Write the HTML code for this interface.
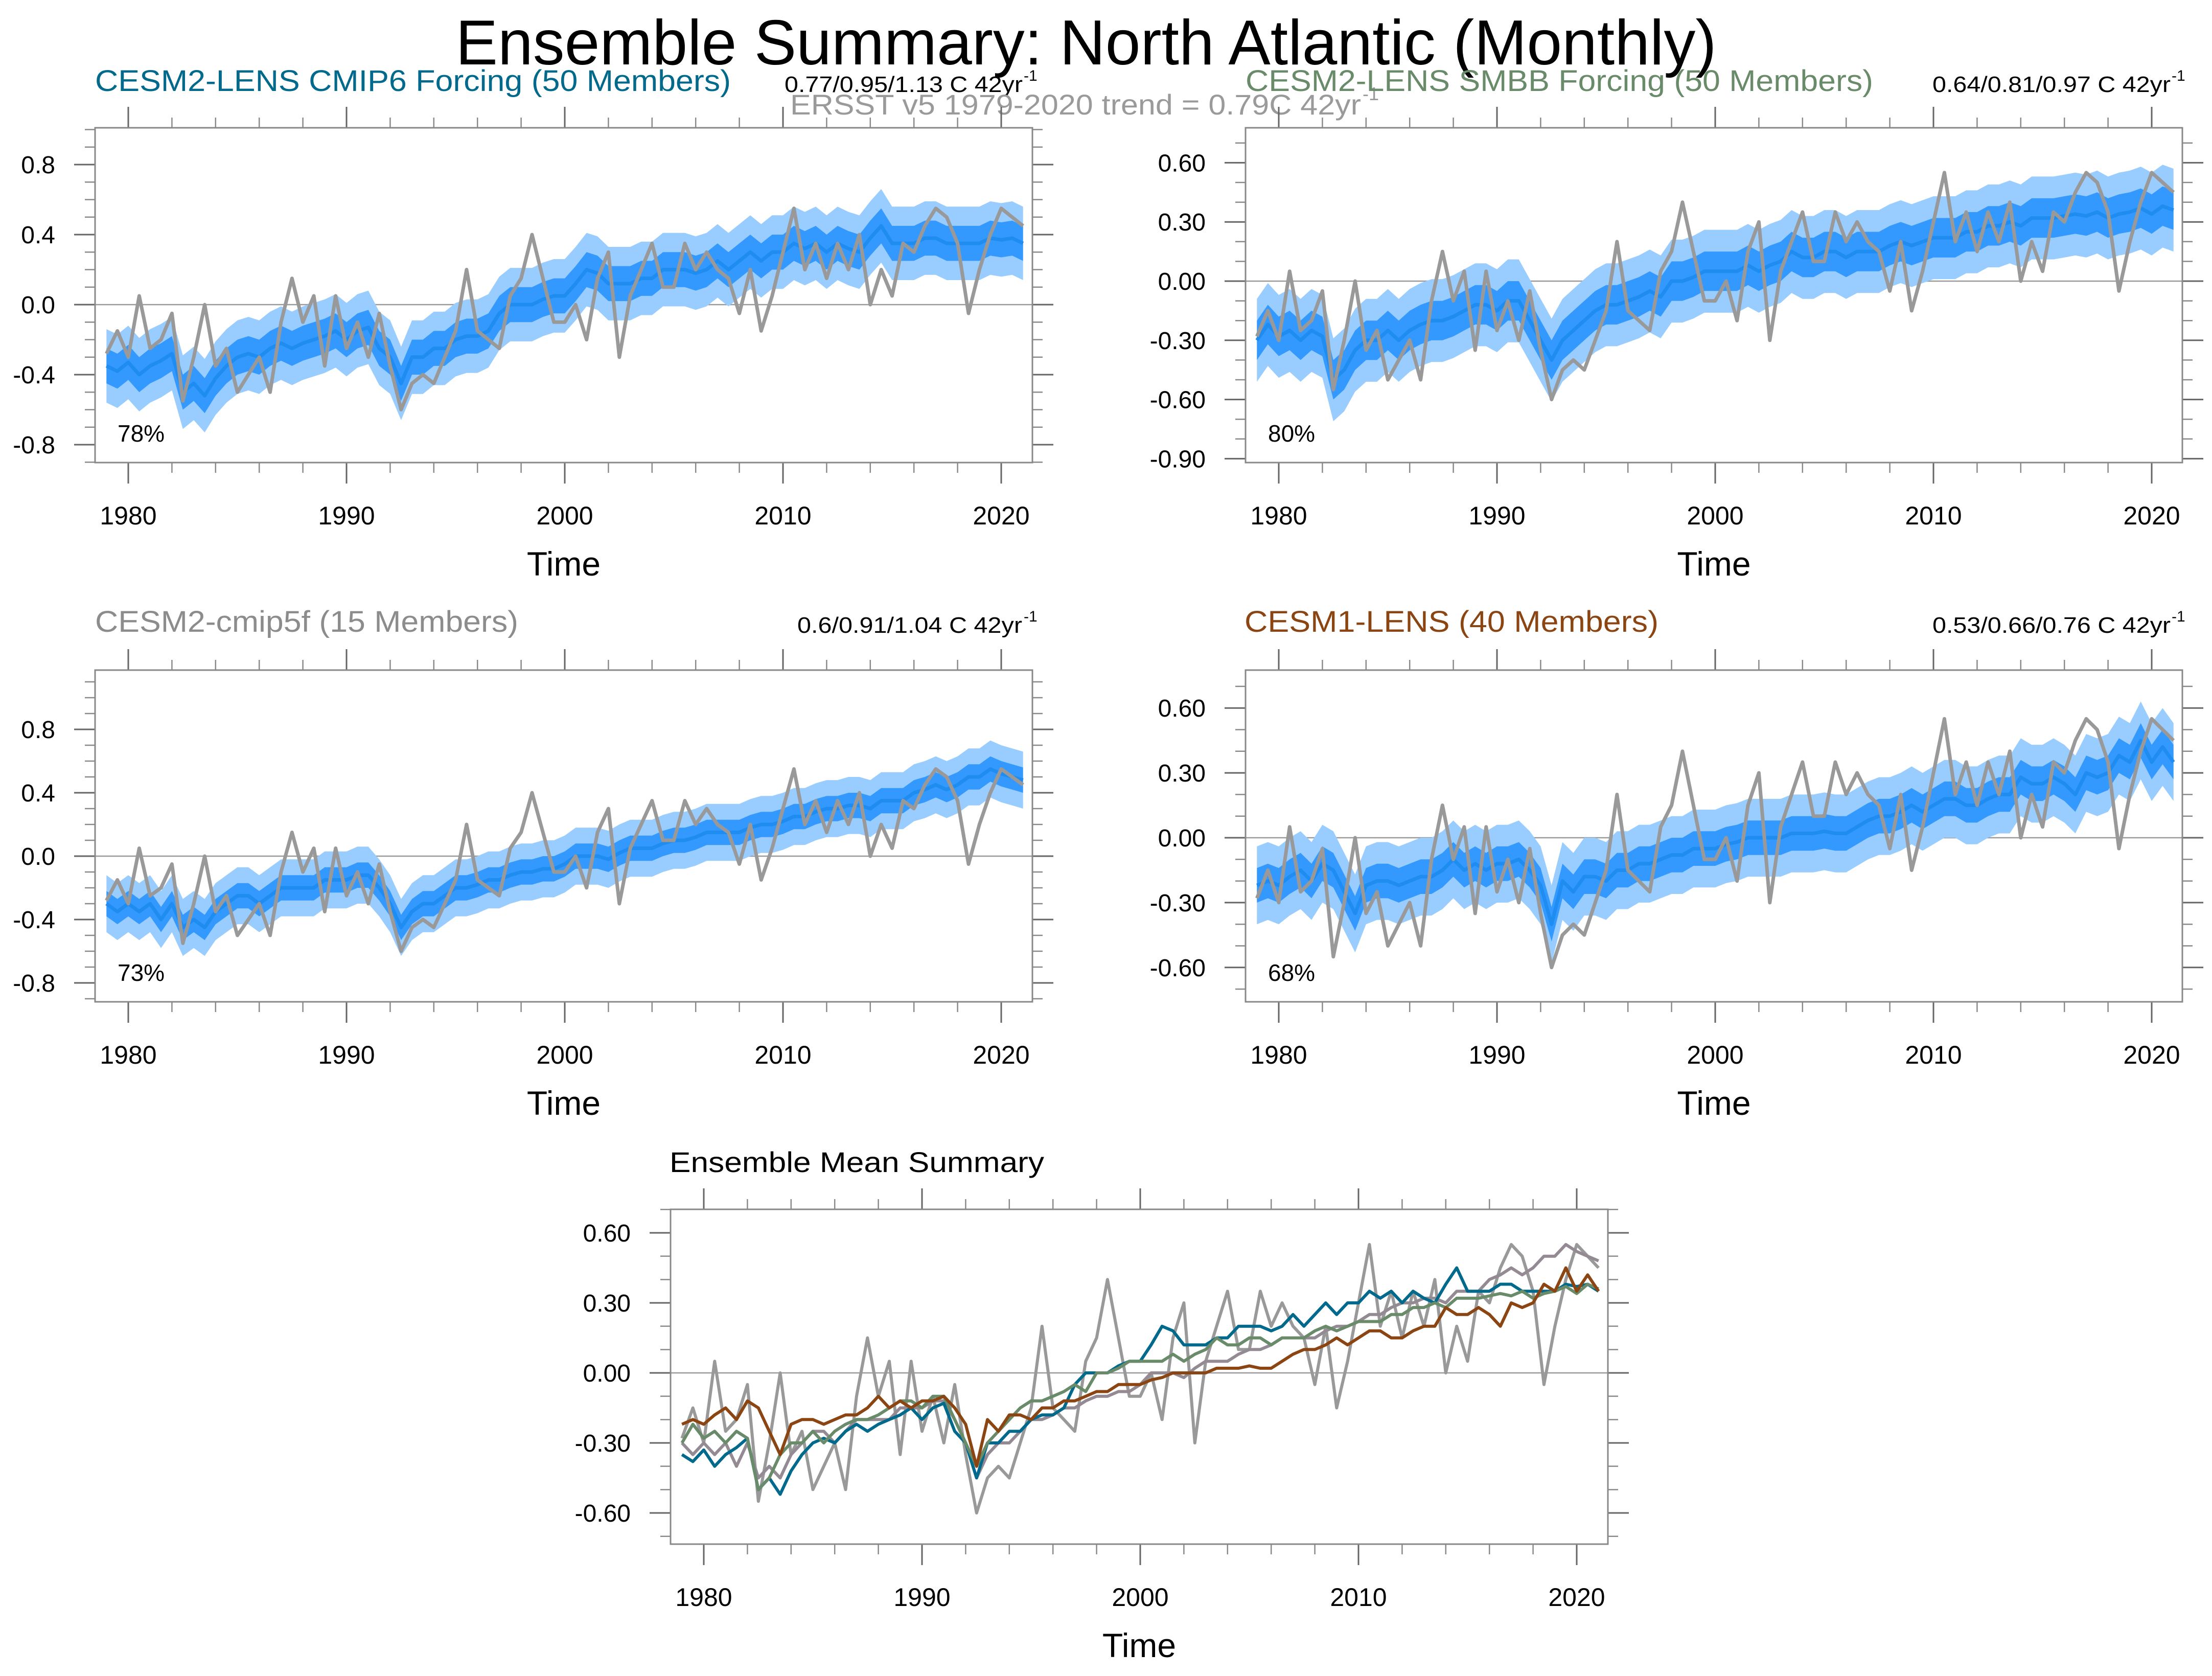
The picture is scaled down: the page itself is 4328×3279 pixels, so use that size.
<!DOCTYPE html>
<html><head><meta charset="utf-8">
<style>
html,body{margin:0;padding:0;background:#fff;}
svg{display:block;font-family:"Liberation Sans",Arial,sans-serif;}
</style></head>
<body>
<svg id="chart" xmlns="http://www.w3.org/2000/svg" width="4328" height="3279" viewBox="0 0 4328 3279">
<rect x="0" y="0" width="4328" height="3279" fill="#fff"/>
<text x="2125" y="126" font-size="124" text-anchor="middle" textLength="2467" lengthAdjust="spacingAndGlyphs" fill="#000">Ensemble Summary: North Atlantic (Monthly)</text>

<text x="186" y="178" font-size="58" fill="#00698c" textLength="1244" lengthAdjust="spacingAndGlyphs">CESM2-LENS CMIP6 Forcing (50 Members)</text>
<text x="1535" y="180" font-size="44" fill="#000" textLength="466" lengthAdjust="spacingAndGlyphs">0.77/0.95/1.13 C 42yr</text>
<text x="2003" y="158" font-size="30" fill="#000">-1</text>
<text x="1546" y="224" font-size="56" fill="#9a9a9a" textLength="1117" lengthAdjust="spacingAndGlyphs">ERSST v5 1979-2020 trend = 0.79C 42yr</text>
<text x="2666" y="196" font-size="36" fill="#9a9a9a">-1</text>

<text x="2437" y="178" font-size="58" fill="#698b69" textLength="1228" lengthAdjust="spacingAndGlyphs">CESM2-LENS SMBB Forcing (50 Members)</text>
<text x="3781" y="180" font-size="44" fill="#000" textLength="466" lengthAdjust="spacingAndGlyphs">0.64/0.81/0.97 C 42yr</text>
<text x="4249" y="158" font-size="30" fill="#000">-1</text>

<text x="186" y="1236" font-size="58" fill="#8c8c8c" textLength="828" lengthAdjust="spacingAndGlyphs">CESM2-cmip5f (15 Members)</text>
<text x="1560" y="1238" font-size="44" fill="#000" textLength="440" lengthAdjust="spacingAndGlyphs">0.6/0.91/1.04 C 42yr</text>
<text x="2003" y="1216" font-size="30" fill="#000">-1</text>

<text x="2435" y="1236" font-size="58" fill="#8b4513" textLength="810" lengthAdjust="spacingAndGlyphs">CESM1-LENS (40 Members)</text>
<text x="3781" y="1238" font-size="44" fill="#000" textLength="466" lengthAdjust="spacingAndGlyphs">0.53/0.66/0.76 C 42yr</text>
<text x="4249" y="1216" font-size="30" fill="#000">-1</text>

<text x="1310" y="2293" font-size="56" fill="#000" textLength="733" lengthAdjust="spacingAndGlyphs">Ensemble Mean Summary</text>
<g id="plots"></g>
</svg>
<script>
// ---- data (half-yearly, 1979.0 .. 2021.0) ----
const obsERSST = [
-0.28,-0.15, -0.30,0.05, -0.25,-0.20, -0.05,-0.55, -0.30,0.00, -0.35,-0.25, -0.50,-0.40, -0.30,-0.50, -0.10,0.15, -0.10,0.05,
-0.35,0.05, -0.25,-0.10, -0.30,-0.05, -0.35,-0.60, -0.45,-0.40, -0.45,-0.30, -0.15,0.20, -0.15,-0.20, -0.25,0.05, 0.15,0.40,
0.15,-0.10, -0.10,0.00, -0.20,0.15, 0.30,-0.30, 0.05,0.20, 0.35,0.10, 0.10,0.35, 0.20,0.30, 0.20,0.15, -0.05,0.20,
-0.15,0.05, 0.30,0.55, 0.20,0.35, 0.15,0.35, 0.20,0.40, 0.00,0.20, 0.05,0.35, 0.30,0.45, 0.55,0.50, 0.35,-0.05,
0.20,0.40, 0.55,0.50, 0.45];
const meanCMIP6 = [
-0.35,-0.38, -0.33,-0.40, -0.35,-0.32, -0.28,-0.50, -0.45,-0.52, -0.42,-0.35, -0.30,-0.28, -0.30,-0.25, -0.22,-0.25, -0.22,-0.20,
-0.18,-0.15, -0.20,-0.15, -0.13,-0.25, -0.30,-0.45, -0.30,-0.30, -0.25,-0.25, -0.20,-0.18, -0.18,-0.15, -0.05,0.00, 0.00,0.00,
0.03,0.05, 0.05,0.12, 0.20,0.18, 0.12,0.12, 0.12,0.15, 0.15,0.20, 0.20,0.20, 0.18,0.20, 0.25,0.20, 0.25,0.30,
0.25,0.30, 0.30,0.35, 0.32,0.35, 0.30,0.35, 0.32,0.30, 0.38,0.45, 0.35,0.35, 0.35,0.38, 0.38,0.35, 0.35,0.35,
0.35,0.38, 0.37,0.38, 0.35];
const meanSMBB = [
-0.30,-0.22, -0.28,-0.25, -0.30,-0.25, -0.28,-0.50, -0.45,-0.35, -0.30,-0.30, -0.25,-0.30, -0.25,-0.22, -0.20,-0.20, -0.18,-0.15,
-0.12,-0.12, -0.15,-0.10, -0.10,-0.20, -0.30,-0.40, -0.30,-0.25, -0.20,-0.15, -0.12,-0.12, -0.10,-0.08, -0.05,-0.08, 0.00,0.00,
0.02,0.05, 0.05,0.05, 0.05,0.08, 0.05,0.08, 0.10,0.15, 0.12,0.12, 0.15,0.15, 0.12,0.15, 0.15,0.15, 0.18,0.20,
0.18,0.20, 0.22,0.22, 0.22,0.25, 0.25,0.28, 0.28,0.30, 0.28,0.32, 0.32,0.32, 0.33,0.34, 0.33,0.35, 0.32,0.34,
0.35,0.37, 0.34,0.38, 0.36];
const meanCMIP5f = [
-0.30,-0.35, -0.30,-0.35, -0.30,-0.40, -0.30,-0.45, -0.40,-0.45, -0.35,-0.30, -0.25,-0.25, -0.30,-0.25, -0.20,-0.20, -0.20,-0.20,
-0.15,-0.15, -0.15,-0.12, -0.12,-0.20, -0.30,-0.45, -0.35,-0.30, -0.30,-0.25, -0.20,-0.20, -0.18,-0.15, -0.15,-0.12, -0.10,-0.10,
-0.08,-0.08, -0.05,0.00, 0.00,0.00, -0.02,0.02, 0.05,0.05, 0.05,0.08, 0.10,0.10, 0.12,0.15, 0.15,0.15, 0.15,0.18,
0.20,0.20, 0.22,0.25, 0.25,0.28, 0.30,0.30, 0.32,0.32, 0.30,0.35, 0.35,0.35, 0.40,0.42, 0.45,0.42, 0.45,0.50,
0.50,0.55, 0.52,0.50, 0.48];
const meanCESM1 = [
-0.22,-0.20, -0.22,-0.18, -0.15,-0.20, -0.12,-0.15, -0.25,-0.35, -0.22,-0.20, -0.20,-0.22, -0.20,-0.18, -0.18,-0.15, -0.10,-0.15,
-0.12,-0.15, -0.12,-0.12, -0.10,-0.15, -0.22,-0.40, -0.20,-0.25, -0.18,-0.18, -0.20,-0.15, -0.15,-0.12, -0.12,-0.10, -0.08,-0.08,
-0.05,-0.05, -0.05,-0.03, -0.02,0.00, 0.00,0.00, 0.00,0.02, 0.02,0.02, 0.03,0.02, 0.02,0.05, 0.08,0.10, 0.10,0.12,
0.15,0.12, 0.15,0.18, 0.18,0.15, 0.15,0.18, 0.20,0.20, 0.28,0.25, 0.25,0.28, 0.25,0.20, 0.30,0.28, 0.30,0.38,
0.35,0.45, 0.35,0.42, 0.35];
// ensemble spread half-widths (inner / outer band), degC
const spreadInner = [0.10, 0.10, 0.08, 0.08];
const spreadOuter = [0.21, 0.21, 0.18, 0.18];
const pctLabels = ["78%", "80%", "73%", "68%"];
const xTickYears = [1980, 1990, 2000, 2010, 2020];

const NS = "http://www.w3.org/2000/svg";
const root = document.getElementById("plots");
const T0 = 1979, T1 = 2021;

function mk(tag, attrs, parent) {
  const e = document.createElementNS(NS, tag);
  for (const k in attrs) e.setAttribute(k, attrs[k]);
  (parent || root).appendChild(e);
  return e;
}

function makeAxes(p) {
  const g = mk("g", {});
  
  
  const X = t => p.x0 + 65 + (t - 1980) * 42.7;
  const Y = v => p.zero - v * p.ppu;
  const step = (T1 - T0) / (obsERSST.length - 1);
  p.X = X; p.Y = Y; p.g = g; p.step = step;
  // minor y ticks
  const vTop = (p.zero - p.y0) / p.ppu, vBot = (p.zero - p.y1) / p.ppu;
  for (let k = Math.ceil(vBot * 10); k <= Math.floor(vTop * 10); k++) {
    const y = Y(k / 10);
    const t1 = mk("line", {x1: p.x0 - 20, x2: p.x0, y1: y, y2: y, stroke: "#8a8a8a", "stroke-width": 2.5}, g);
    
    
    const t2 = mk("line", {x1: p.x1, x2: p.x1 + 20, y1: y, y2: y, stroke: "#8a8a8a", "stroke-width": 2.5}, g);
    
    
  }
  p.major.forEach(v => {
    const y = Y(v);
    const t1 = mk("line", {x1: p.x0 - 41, x2: p.x0, y1: y, y2: y, stroke: "#666", "stroke-width": 3}, g);
    
    
    const t2 = mk("line", {x1: p.x1, x2: p.x1 + 41, y1: y, y2: y, stroke: "#666", "stroke-width": 3}, g);
    
    
    const lb = mk("text", {x: p.x0 - 78, y: y + 17, "font-size": 48, "text-anchor": "end", fill: "#000"}, g);
    
    
    lb.textContent = v.toFixed(p.dec);
  });
  // x ticks
  for (let yr = 1980; yr <= 2020; yr += 2) {
    const x = X(yr);
    const major = yr % 10 === 0;
    const L = major ? 41 : 20;
    const a = mk("line", {x1: x, x2: x, y1: p.y0 - L, y2: p.y0, stroke: major ? "#666" : "#8a8a8a", "stroke-width": major ? 3 : 2.5}, g);
    
    
    const b = mk("line", {x1: x, x2: x, y1: p.y1, y2: p.y1 + L, stroke: major ? "#666" : "#8a8a8a", "stroke-width": major ? 3 : 2.5}, g);
    
    
  }
  xTickYears.forEach(yr => {
    const lb = mk("text", {x: X(yr), y: p.y1 + 121, "font-size": 50, "text-anchor": "middle", fill: "#000"}, g);
    
    
    lb.textContent = yr;
  });
  const xt = mk("text", {x: (p.x0 + p.x1) / 2, y: p.y1 + 221, "font-size": 66, "text-anchor": "middle", fill: "#000"}, g);
  
  
  xt.textContent = "Time";
  return p;
}

function linePath(p, arr) {
  return arr.map((v, i) => (i ? "L" : "M") + p.X(T0 + i * p.step).toFixed(1) + "," + p.Y(v).toFixed(1)).join("");
}
function bandPath(p, arr, w) {
  let d = arr.map((v, i) => (i ? "L" : "M") + p.X(T0 + i * p.step).toFixed(1) + "," + p.Y(v + w).toFixed(1)).join("");
  for (let i = arr.length - 1; i >= 0; i--) d += "L" + p.X(T0 + i * p.step).toFixed(1) + "," + p.Y(arr[i] - w).toFixed(1);
  return d + "Z";
}
function zeroAndFrame(p) {
  const z = mk("line", {x1: p.x0, x2: p.x1, y1: p.Y(0), y2: p.Y(0), stroke: "#9a9a9a", "stroke-width": 2.5}, p.g);
  
  
}
function frame(p) {
  const f = mk("rect", {x: p.x0, y: p.y0, width: p.x1 - p.x0, height: p.y1 - p.y0, fill: "none", stroke: "#888", "stroke-width": 3}, p.g);
  
  
}

const panels = [
  {name: "panel-cesm2-cmip6", x0: 186, x1: 2020, y0: 250, y1: 905, zero: 596, ppu: 342.5, major: [-0.8, -0.4, 0, 0.4, 0.8], dec: 1, mean: meanCMIP6},
  {name: "panel-cesm2-smbb", x0: 2437, x1: 4270, y0: 250, y1: 905, zero: 550, ppu: 386, major: [-0.9, -0.6, -0.3, 0, 0.3, 0.6], dec: 2, mean: meanSMBB},
  {name: "panel-cesm2-cmip5f", x0: 186, x1: 2020, y0: 1311, y1: 1960, zero: 1675, ppu: 310, major: [-0.8, -0.4, 0, 0.4, 0.8], dec: 1, mean: meanCMIP5f},
  {name: "panel-cesm1-lens", x0: 2437, x1: 4270, y0: 1311, y1: 1960, zero: 1639, ppu: 423, major: [-0.6, -0.3, 0, 0.3, 0.6], dec: 2, mean: meanCESM1}
];

panels.forEach((p, k) => {
  makeAxes(p);
  zeroAndFrame(p);
  const ob = mk("path", {d: bandPath(p, p.mean, spreadOuter[k]), fill: "#99ccff", stroke: "none"}, p.g);
  
  
  const ib = mk("path", {d: bandPath(p, p.mean, spreadInner[k]), fill: "#3399ff", stroke: "none"}, p.g);
  
  
  const ml = mk("path", {d: linePath(p, p.mean), fill: "none", stroke: "#1e8cf0", "stroke-width": 7, "stroke-linejoin": "round"}, p.g);
  
  
  const ol = mk("path", {d: linePath(p, obsERSST), fill: "none", stroke: "#999", "stroke-width": 7, "stroke-linejoin": "round"}, p.g);
  
  
  frame(p);
  const pc = mk("text", {x: p.x0 + 44, y: p.y1 - 41, "font-size": 46, fill: "#000"}, p.g);
  
  
  pc.textContent = pctLabels[k];
});

// summary panel
const p5 = makeAxes({name: "panel-ensemble-mean-summary", x0: 1312, x1: 3146, y0: 2366, y1: 3021, zero: 2686, ppu: 456.7, major: [-0.6, -0.3, 0, 0.3, 0.6], dec: 2});
zeroAndFrame(p5);
const series5 = [
  {arr: obsERSST, c: "#999999", n: "ersst-obs-line"},
  {arr: meanCMIP5f, c: "#938a93", n: "cmip5f-mean-line"},
  {arr: meanCMIP6, c: "#00698c", n: "cmip6-mean-line"},
  {arr: meanSMBB, c: "#698b69", n: "smbb-mean-line"},
  {arr: meanCESM1, c: "#8b4513", n: "cesm1-mean-line"}
];
series5.forEach(s => {
  const l = mk("path", {d: linePath(p5, s.arr), fill: "none", stroke: s.c, "stroke-width": 6, "stroke-linejoin": "round"}, p5.g);
  
  
});
frame(p5);
</script>
</body></html>
